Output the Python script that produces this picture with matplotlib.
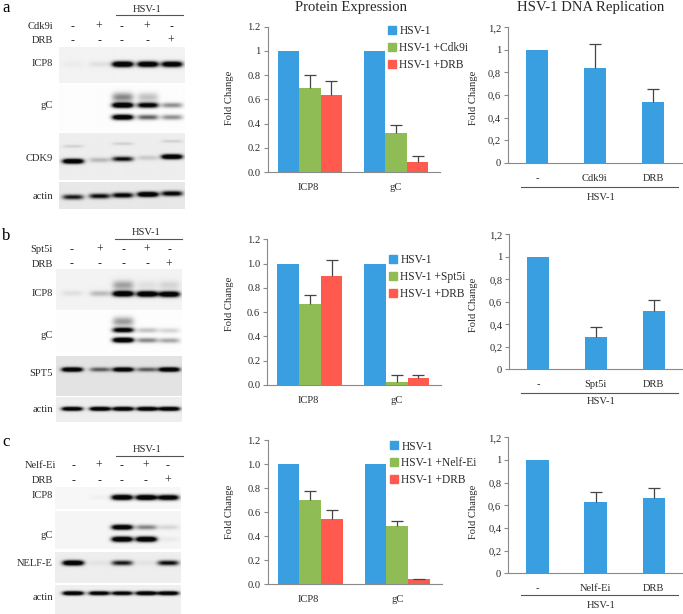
import numpy as np
import matplotlib
matplotlib.use("Agg")
import matplotlib.pyplot as plt
from matplotlib.patches import Patch

plt.rcParams['font.family'] = ['Liberation Serif', 'DejaVu Serif']
W, H = 683, 614
BLUE, GREEN, RED = '#3a9fe0', '#8fbc54', '#ff5a4d'
TXT = '#2a2a2a'
GREY = '#8a8a8a'

# ---- protein expression (bar tops and error-bar tops) ----
targets = ['ICP8', 'gC']
prot_a_hsv = [1.0, 1.0]
prot_a_inh = [0.69, 0.325]
prot_a_drb = [0.64, 0.085]
prot_a_inh_top = [0.80, 0.39]
prot_a_drb_top = [0.755, 0.135]

prot_b_hsv = [1.0, 1.0]
prot_b_inh = [0.665, 0.025]
prot_b_drb = [0.90, 0.06]
prot_b_inh_top = [0.74, 0.085]
prot_b_drb_top = [1.03, 0.085]

prot_c_hsv = [1.0, 1.0]
prot_c_inh = [0.70, 0.48]
prot_c_drb = [0.54, 0.04]
prot_c_inh_top = [0.775, 0.525]
prot_c_drb_top = [0.615, 0.045]

# ---- DNA replication ----
rep_a_labels = ['-', 'Cdk9i', 'DRB']
rep_a_vals = [1.0, 0.835, 0.535]
rep_a_tops = [None, 1.055, 0.65]
rep_b_labels = ['-', 'Spt5i', 'DRB']
rep_b_vals = [1.0, 0.29, 0.52]
rep_b_tops = [None, 0.375, 0.615]
rep_c_labels = ['-', 'Nelf-Ei', 'DRB']
rep_c_vals = [1.0, 0.63, 0.665]
rep_c_tops = [None, 0.72, 0.75]

ticks = [0, 0.2, 0.4, 0.6, 0.8, 1.0, 1.2]
mid_a_ticklabels = ['0.0', '0.2', '0.4', '0.6', '0.8', '1', '1.2']
mid_bc_ticklabels = ['0.0', '0.2', '0.4', '0.6', '0.8', '1.0', '1.2']
right_ticklabels = ['0', '0,2', '0,4', '0,6', '0,8', '1', '1,2']

# ---- blot band strengths per lane ----
a_icp8 = [.02, .05, 1, .95, .9]
a_gc_smear = [0, 0, .3, .15, 0]
a_gc_up = [0, 0, 1, .8, .28]
a_gc_lo = [0, 0, .95, .4, .28]
a_cdk9_faint = [.08, 0, .08, 0, .08]
a_cdk9 = [1, .15, .65, .1, 1]
a_actin = [.6, .65, .75, 1, .75]

b_icp8_smear = [0, 0, .22, .05, .08]
b_icp8 = [.05, .15, 1, 1, .95]
b_gc_smear = [0, 0, .25, 0, 0]
b_gc_up = [0, 0, .8, .15, .1]
b_gc_lo = [0, 0, 1, .3, .22]
b_spt5 = [1, .4, .95, .4, 1]
b_actin = [.95, 1, 1, 1, 1]

c_icp8 = [0, .02, 1, 1, .9]
c_gc_up = [0, 0, .95, .3, .08]
c_gc_lo = [0, 0, 1, 1, .03]
c_nelf = [1, .03, .6, .03, .65]
c_actin = [1, .9, .85, 1, .95]

fig = plt.figure(figsize=(W / 100, H / 100), dpi=100, facecolor='white')
bg = fig.add_axes([0, 0, 1, 1], zorder=0)
bg.axis('off')


def blot(x0, x1, y0, y1, shade, lanes, bands):
    ys, xs = np.mgrid[y0:y1:0.5, x0:x1:0.5]
    dark = np.zeros_like(xs)
    for yl, yr, sig, levels in bands:
        for lane, lev in zip(lanes, levels):
            frac = (lane - lanes[0]) / (lanes[-1] - lanes[0])
            yc = yl + (yr - yl) * frac
            dark += lev * np.exp(-((xs - lane) / 10.5) ** 4) * np.exp(-((ys - yc) / sig) ** 2)
    img = shade * (1 - np.clip(1.6 * dark, 0, 1)) + 0.02
    bg.imshow(img, extent=(x0, x1, y1, y0), cmap='gray', vmin=0, vmax=1,
              aspect='auto', interpolation='bilinear', zorder=1)


def header(letter, lx, ly, lanes, name, row1, row2, hy, ly2, lx0, lx1, y1, y2, right):
    bg.text(lx, ly, letter, fontsize=12, color='black', ha='left', va='baseline')
    bg.text((lx0 + lx1) / 2 - 2, hy, 'HSV-1', fontsize=7.6, color=TXT, ha='center', va='center')
    bg.plot([lx0, lx1], [ly2, ly2], color='#555555', lw=0.8, zorder=2)
    bg.text(right, y1, name, fontsize=7.6, color=TXT, ha='right', va='center')
    bg.text(53, y2, 'DRB', fontsize=7.6, color=TXT, ha='right', va='center')
    for lane, s1, s2 in zip(lanes, row1, row2):
        bg.text(lane, y1, s1, fontsize=8.5, color=TXT, ha='center', va='center')
        bg.text(lane, y2, s2, fontsize=8.5, color=TXT, ha='center', va='center')


def blot_labels(items):
    for text, y in items:
        bg.text(53, y, text, fontsize=7.6, color=TXT, ha='right', va='center')


row_inh = ['-', '+', '-', '+', '-']
row_drb = ['-', '-', '-', '-', '+']

lanes_a = [72.5, 99, 122, 147, 171]
blot(58.7, 184, 46.7, 82.7, .93, lanes_a, [(63.7, 63.7, 2.8, a_icp8)])
blot(58.7, 184, 85, 130.7, .97, lanes_a, [(97, 97, 4.5, a_gc_smear), (105, 105, 2.6, a_gc_up), (117, 117, 2.6, a_gc_lo)])
blot(58.7, 184, 133, 180, .91, lanes_a, [(146, 141, 1.5, a_cdk9_faint), (161, 156.5, 2.4, a_cdk9)])
blot(58.7, 184, 182.7, 209.3, .89, lanes_a, [(197.5, 194, 2.5, a_actin)])
header('a', 2, 11.5, lanes_a, 'Cdk9i', row_inh, row_drb, 9, 15.3, 116, 182.7, 26.7, 40.7, 53)
blot_labels([('ICP8', 63.7), ('gC', 106), ('CDK9', 158.7), ('actin', 196.7)])

lanes_b = [72, 100, 123, 147, 169]
blot(56, 181.7, 269, 310, .93, lanes_b, [(285, 285, 4.5, b_icp8_smear), (293, 294, 2.8, b_icp8)])
blot(56, 181.7, 311.7, 353.3, .97, lanes_b, [(322, 322, 4.5, b_gc_smear), (330, 331, 2.5, b_gc_up), (340, 341, 2.5, b_gc_lo)])
blot(56, 181.7, 355.7, 395.7, .87, lanes_b, [(369, 369, 2.2, b_spt5)])
blot(56, 181.7, 396.7, 421.7, .91, lanes_b, [(408.3, 408.3, 2, b_actin)])
header('b', 2, 240, lanes_b, 'Spt5i', row_inh, row_drb, 232.7, 239.3, 115, 182, 250, 264.3, 53)
blot_labels([('ICP8', 294), ('gC', 335), ('SPT5', 373), ('actin', 409)])

lanes_c = [73, 99, 122, 146, 168]
blot(55, 181, 487.3, 509, .95, lanes_c, [(497.3, 497.6, 2.6, c_icp8)])
blot(55, 181, 511.7, 549.3, .94, lanes_c, [(527.7, 527.7, 2.5, c_gc_up), (539.7, 539.7, 2.6, c_gc_lo)])
blot(55, 181, 552, 582.7, .91, lanes_c, [(562.7, 562.7, 2.5, c_nelf)])
blot(55, 181, 585.3, 614, .92, lanes_c, [(593.3, 593.3, 2, c_actin)])
header('c', 2, 446, lanes_c, 'Nelf-Ei', row_inh, row_drb, 449, 455.7, 116, 182.7, 466, 480.7, 56.7)
blot_labels([('ICP8', 495.7), ('gC', 536), ('NELF-E', 563), ('actin', 597)])

bg.set_xlim(0, W)
bg.set_ylim(H, 0)


def chart_axes(l, r, t, b, ticklabels):
    ax = fig.add_axes([l / W, 1 - b / H, (r - l) / W, (b - t) / H], zorder=2)
    ax.patch.set_alpha(0)
    for s in ('top', 'right'):
        ax.spines[s].set_visible(False)
    for s in ('left', 'bottom'):
        ax.spines[s].set_color(GREY)
        ax.spines[s].set_linewidth(0.8)
    ax.set_ylim(0, 1.2)
    ax.set_yticks(ticks)
    ax.set_yticklabels(ticklabels, fontsize=7.6, color=TXT)
    ax.tick_params(axis='y', length=3, width=0.8, color=GREY, pad=2)
    ax.tick_params(axis='x', length=0, pad=8)
    return ax


def err(ax, xs, vals, tops):
    for x, v, t in zip(xs, vals, tops):
        if t is None:
            continue
        ax.vlines(x, v, t, color='#444444', lw=0.9, zorder=4)
        ax.plot([x], [t], marker='_', ms=8, mew=0.9, color='#444444', zorder=4)


def protein(l, r, t, b, ticklabels, hsv, inh, drb, inh_top, drb_top, inh_name, lx, ly):
    ax = chart_axes(l, r, t, b, ticklabels)
    centers = np.array([0.49, 1.49])
    w = 0.25
    ax.bar(centers - w, hsv, w, color=BLUE, zorder=3)
    ax.bar(centers, inh, w, color=GREEN, zorder=3)
    ax.bar(centers + w, drb, w, color=RED, zorder=3)
    err(ax, centers, inh, inh_top)
    err(ax, centers + w, drb, drb_top)
    ax.set_xlim(0, 2)
    ax.set_xticks([0.47, 1.49])
    ax.set_xticklabels(targets, fontsize=7.6, color=TXT)
    handles = [Patch(color=BLUE), Patch(color=GREEN), Patch(color=RED)]
    fig.legend(handles, ['HSV-1', inh_name, 'HSV-1 +DRB'], loc='upper left',
               bbox_to_anchor=(lx / W, 1 - ly / H), bbox_transform=fig.transFigure,
               frameon=False, fontsize=8.3, handlelength=0.68, handleheight=0.68,
               handletextpad=0.3, labelspacing=0.42, borderpad=0, borderaxespad=0,
               labelcolor=TXT).set_zorder(5)


def replication(l, r, t, b, labels, vals, tops, line_y, text_y, fy):
    ax = chart_axes(l, r, t, b, right_ticklabels)
    xs = np.arange(3) + 0.5
    ax.bar(xs, vals, 0.385, color=BLUE, zorder=3)
    err(ax, xs, vals, tops)
    ax.set_xlim(0, 3)
    ax.set_xticks(xs)
    ax.set_xticklabels(labels, fontsize=7.6, color=TXT)
    bg.plot([521, 678], [line_y, line_y], color='#555555', lw=0.8)
    bg.text(601, text_y, 'HSV-1', fontsize=7.6, color=TXT, ha='center', va='center')
    bg.text(473.5, fy, 'Fold Change', fontsize=7.6, color=TXT, rotation=90, ha='center', va='center')


protein(267.7, 440, 26.7, 172, mid_a_ticklabels, prot_a_hsv, prot_a_inh, prot_a_drb,
        prot_a_inh_top, prot_a_drb_top, 'HSV-1 +Cdk9i', 388, 25.5)
protein(267.3, 441, 239.3, 385, mid_bc_ticklabels, prot_b_hsv, prot_b_inh, prot_b_drb,
        prot_b_inh_top, prot_b_drb_top, 'HSV-1 +Spt5i', 389, 254)
protein(267.7, 441.7, 440, 584, mid_bc_ticklabels, prot_c_hsv, prot_c_inh, prot_c_drb,
        prot_c_inh_top, prot_c_drb_top, 'HSV-1 +Nelf-Ei', 390, 440.5)

replication(508, 682, 27.3, 162.7, rep_a_labels, rep_a_vals, rep_a_tops, 186.7, 197, 98)
replication(509.3, 682.5, 234.3, 369.3, rep_b_labels, rep_b_vals, rep_b_tops, 392.7, 402, 305)
replication(508.3, 683, 437.3, 573.3, rep_c_labels, rep_c_vals, rep_c_tops, 595.3, 605, 512)

for y in (98, 304, 512):
    bg.text(230, y, 'Fold Change', fontsize=7.6, color=TXT, rotation=90, ha='center', va='center')

bg.text(351, 7, 'Protein Expression', fontsize=10.6, color=TXT, ha='center', va='center')
bg.text(591, 7, 'HSV-1 DNA Replication', fontsize=10.6, color=TXT, ha='center', va='center')

fig.savefig('out.png', dpi=100)
